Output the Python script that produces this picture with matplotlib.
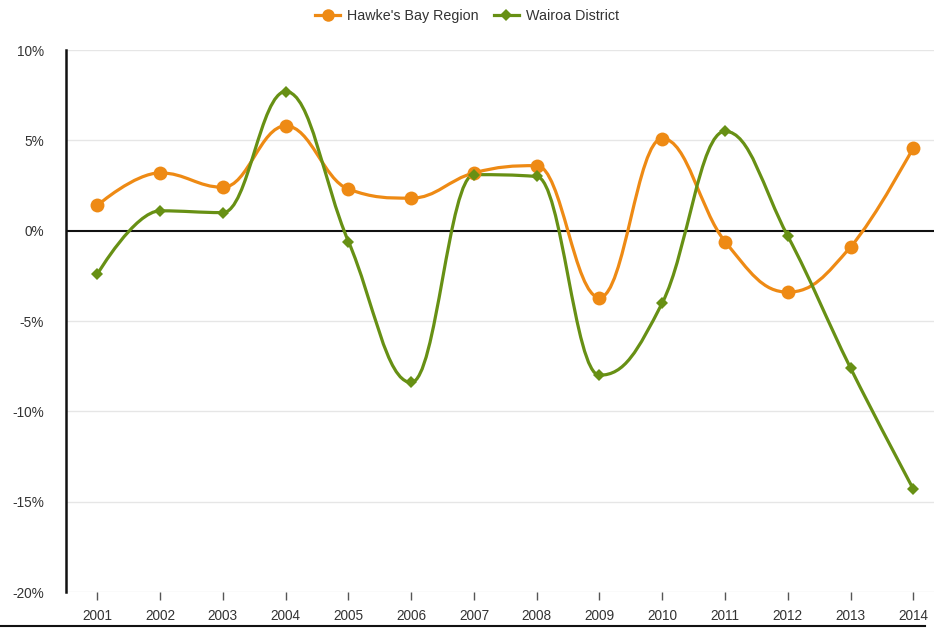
import matplotlib

matplotlib.use("Agg")

import matplotlib.pyplot as plt
from matplotlib.lines import Line2D
from matplotlib.path import Path
from matplotlib.patches import PathPatch

years = ["2001", "2002", "2003", "2004", "2005", "2006", "2007",
         "2008", "2009", "2010", "2011", "2012", "2013", "2014"]
hawkes_bay = [1.4, 3.2, 2.4, 5.8, 2.3, 1.8, 3.2, 3.6, -3.7, 5.1, -0.6, -3.4, -0.9, 4.6]
wairoa = [-2.4, 1.1, 1.0, 7.7, -0.6, -8.4, 3.1, 3.0, -8.0, -4.0, 5.5, -0.3, -7.6, -14.3]

ORANGE = "#ee8a14"
GREEN = "#679014"
TEXT = "#333333"


def spline_path(xs, ys, smoothing=1.5):
    # cubic bezier through every point, control points placed like a highcharts spline
    n = len(xs)
    left = [(xs[i], ys[i]) for i in range(n)]
    right = [(xs[i], ys[i]) for i in range(n)]
    denom = smoothing + 1
    for i in range(1, n - 1):
        px, py = xs[i], ys[i]
        lx, ly = xs[i - 1], ys[i - 1]
        nx, ny = xs[i + 1], ys[i + 1]
        lcx = (smoothing * px + lx) / denom
        lcy = (smoothing * py + ly) / denom
        rcx = (smoothing * px + nx) / denom
        rcy = (smoothing * py + ny) / denom
        if rcx != lcx:
            corr = (rcy - lcy) * (rcx - px) / (rcx - lcx) + py - rcy
            lcy += corr
            rcy += corr
        if lcy > ly and lcy > py:
            lcy = max(ly, py)
            rcy = 2 * py - lcy
        elif lcy < ly and lcy < py:
            lcy = min(ly, py)
            rcy = 2 * py - lcy
        if rcy > ny and rcy > py:
            rcy = max(ny, py)
            lcy = 2 * py - rcy
        elif rcy < ny and rcy < py:
            rcy = min(ny, py)
            lcy = 2 * py - rcy
        left[i] = (lcx, lcy)
        right[i] = (rcx, rcy)
    verts = [(xs[0], ys[0])]
    codes = [Path.MOVETO]
    for i in range(1, n):
        verts += [right[i - 1], left[i], (xs[i], ys[i])]
        codes += [Path.CURVE4] * 3
    return Path(verts, codes)


fig = plt.figure(figsize=(9.34, 6.29), dpi=100)
ax = fig.add_axes([0.0707, 0.0588, 0.9293, 0.8617])
xs = list(range(len(years)))

for yv in [-20, -15, -10, -5, 5, 10]:
    ax.axhline(yv, color="#e6e6e6", lw=1, zorder=0)
ax.axhline(0, color="#111111", lw=1.5, zorder=1)

for values, color, marker, size in [(hawkes_bay, ORANGE, "o", 10), (wairoa, GREEN, "D", 6.5)]:
    ax.add_patch(PathPatch(spline_path(xs, values), facecolor="none", edgecolor=color,
                           lw=2.3, zorder=2, capstyle="round"))
    ax.plot(xs, values, linestyle="none", marker=marker, markersize=size,
            color=color, markeredgewidth=0, zorder=3)

ax.set_xlim(-0.5, 13.33)
ax.set_ylim(-20, 10)
ax.set_xticks(xs)
ax.set_xticklabels(years)
ax.set_yticks([-20, -15, -10, -5, 0, 5, 10])
ax.set_yticklabels([f"{v}%" for v in [-20, -15, -10, -5, 0, 5, 10]])

for name, spine in ax.spines.items():
    spine.set_visible(name == "left")
ax.spines["left"].set_color("#111111")
ax.spines["left"].set_linewidth(1.8)

ax.tick_params(axis="x", length=6, width=1, color="#555555", pad=6,
               labelsize=9.8, labelcolor=TEXT)
ax.tick_params(axis="y", length=0, pad=16, labelsize=9.8, labelcolor=TEXT)
for label in ax.get_xticklabels() + ax.get_yticklabels():
    label.set_fontfamily("Liberation Sans")

handles = [
    Line2D([0], [0], color=ORANGE, lw=2.3, marker="o", markersize=9, markeredgewidth=0),
    Line2D([0], [0], color=GREEN, lw=2.3, marker="D", markersize=6, markeredgewidth=0),
]
fig.legend(handles, ["Hawke's Bay Region", "Wairoa District"], loc="center",
           bbox_to_anchor=(0.5, 0.974), ncol=2, frameon=False, handlelength=1.7,
           columnspacing=1.1, handletextpad=0.5,
           prop={"family": "Liberation Sans", "size": 10.3})
for text in fig.legends[0].get_texts():
    text.set_color(TEXT)

# rule across the foot of the figure
fig.add_artist(Line2D([0.0, 0.99], [0.004, 0.004], color="#111111", lw=1.5,
                      transform=fig.transFigure))

fig.savefig("out.png", dpi=100, facecolor="white")
